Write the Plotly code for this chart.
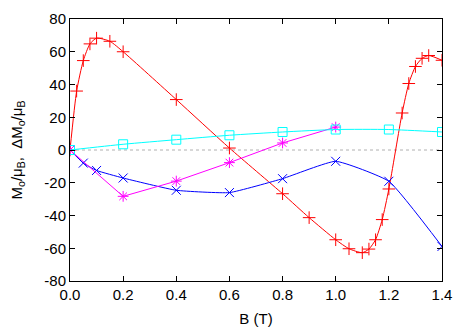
import plotly.graph_objects as go

# Red series (+)
red_x = [0.0, 0.025, 0.05, 0.075, 0.1, 0.15, 0.2, 0.4, 0.6, 0.8, 0.9, 1.0, 1.05, 1.1, 1.125,
         1.15, 1.175, 1.2, 1.25, 1.275, 1.3, 1.325, 1.35, 1.4]
red_y = [0, 36, 54.6, 64.8, 68.3, 66.4, 60, 30.8, 1.2, -26.7, -41.3, -54.8, -60.3, -62.7, -60.5,
         -54.8, -42.5, -23.8, 22.6, 40.6, 51, 56, 57.7, 54.8]

# Blue series (x)
blue_x = [0.0, 0.05, 0.1, 0.2, 0.4, 0.6, 0.8, 1.0, 1.2, 1.4]
blue_y = [0, -8, -12.5, -17.1, -24.6, -26, -17.5, -6.9, -19.1, -58.9]

# Magenta series (*)
mag_x = [0.0, 0.2, 0.4, 0.6, 0.8, 1.0]
mag_y = [0, -28.3, -19, -7.7, 4.3, 14]

# Cyan series (open squares)
cyan_x = [0.0, 0.2, 0.4, 0.6, 0.8, 1.0, 1.2, 1.4]
cyan_y = [0, 3.5, 6.3, 9, 11, 12.5, 12.5, 11]

x_ticks = [0.0, 0.2, 0.4, 0.6, 0.8, 1.0, 1.2, 1.4]
y_ticks = [-80, -60, -40, -20, 0, 20, 40, 60, 80]

FONT = "Liberation Sans, Arial, sans-serif"

fig = go.Figure()

# zero line (dotted gray)
fig.add_trace(go.Scatter(x=[0, 1.4], y=[0, 0], mode="lines",
                         line=dict(color="#b0b0b0", width=1, dash="dot"),
                         hoverinfo="skip", showlegend=False))

fig.add_trace(go.Scatter(x=red_x, y=red_y, mode="lines+markers",
                         line=dict(color="#ff0000", width=1, shape="spline", smoothing=0.6),
                         marker=dict(symbol="cross-thin", size=9, line=dict(color="#ff0000", width=1)),
                         showlegend=False))
fig.add_trace(go.Scatter(x=blue_x, y=blue_y, mode="lines+markers",
                         line=dict(color="#0000ff", width=1, shape="spline", smoothing=0.4),
                         marker=dict(symbol="x-thin", size=9, line=dict(color="#0000ff", width=1)),
                         showlegend=False))
fig.add_trace(go.Scatter(x=mag_x, y=mag_y, mode="lines+markers",
                         line=dict(color="#ff00ff", width=1),
                         marker=dict(symbol="asterisk", size=9, line=dict(color="#ff00ff", width=1)),
                         showlegend=False))
fig.add_trace(go.Scatter(x=cyan_x, y=cyan_y, mode="lines+markers",
                         line=dict(color="#00ffff", width=1, shape="spline", smoothing=0.6),
                         marker=dict(symbol="square-open", size=9, color="#00ffff", line=dict(width=1)),
                         showlegend=False))

axis_common = dict(showgrid=False, zeroline=False, showline=True, linecolor="black", linewidth=1,
                   mirror="allticks", ticks="inside", ticklen=5, tickcolor="black", automargin=False,
                   tickfont=dict(family=FONT, size=15, color="black"))

fig.update_xaxes(range=[0, 1.4], tickvals=x_ticks, ticktext=[f"{v:.1f}" for v in x_ticks],
                 title=dict(text="B (T)", standoff=11, font=dict(family=FONT, size=15, color="black")),
                 **axis_common)
fig.update_yaxes(range=[-80, 80], tickvals=y_ticks, ticktext=[str(v) for v in y_ticks],
                 title=dict(text="M<sub>o</sub>/μ<sub>B</sub>,  ΔM<sub>o</sub>/μ<sub>B</sub>", standoff=18,
                            font=dict(family=FONT, size=15, color="black")),
                 **axis_common)

fig.update_layout(width=469, height=328, margin=dict(l=70, r=27, t=19, b=47),
                  plot_bgcolor="white", paper_bgcolor="white")

fig.write_html("out.html", config={"displayModeBar": False},
               post_script="document.body.style.margin='0';")
